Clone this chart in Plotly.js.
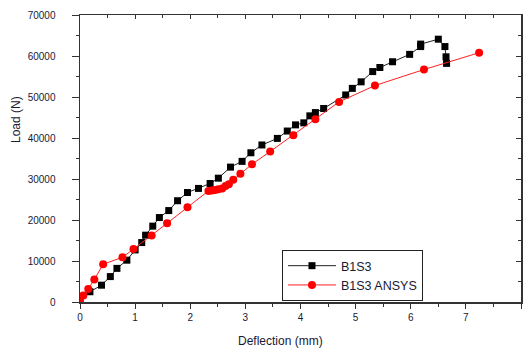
<!DOCTYPE html>
<html>
<head>
<meta charset="utf-8">
<script src="https://cdn.plot.ly/plotly-3.0.1.min.js"></script>
<style>html,body{margin:0;padding:0;background:#fff;}#chart{width:524px;height:348px;}</style>
</head>
<body>
<div id="chart"></div>
<script>
// B1S3 experimental
const expDeflection = [0, 0.18, 0.39, 0.55, 0.67, 0.85, 1.0, 1.12, 1.19, 1.32, 1.44, 1.61, 1.77, 1.95, 2.15, 2.36, 2.51, 2.73, 2.94, 3.10, 3.30, 3.58, 3.76, 3.91, 4.06, 4.17, 4.27, 4.42, 4.82, 4.94, 5.10, 5.31, 5.44, 5.67, 5.98, 6.18, 6.18, 6.50, 6.62, 6.64, 6.65];
const expLoad = [500, 2500, 4100, 6200, 8200, 10200, 12700, 14500, 16300, 18500, 20600, 22300, 24700, 26700, 27700, 28900, 30200, 32900, 34300, 36400, 38300, 39900, 41700, 43200, 43700, 45400, 46200, 47200, 50500, 52100, 53700, 56200, 57200, 58600, 60400, 62300, 62900, 64100, 62300, 59800, 58200];
// B1S3 ANSYS
const ansysDeflection = [0, 0.06, 0.15, 0.26, 0.42, 0.77, 0.97, 1.30, 1.58, 1.95, 2.33, 2.39, 2.45, 2.51, 2.58, 2.64, 2.70, 2.78, 2.91, 3.12, 3.45, 3.87, 4.27, 4.70, 5.35, 6.24, 7.24];
const ansysLoad = [0, 1600, 3200, 5500, 9200, 10900, 12900, 16200, 19200, 23100, 27100, 27200, 27300, 27500, 27700, 28300, 28700, 29800, 31300, 33600, 36700, 40700, 44600, 48800, 52800, 56700, 60800];

const xTitle = 'Deflection (mm)';
const yTitle = 'Load (N)';
const seriesNames = ['B1S3', 'B1S3 ANSYS'];

const tickFont = {family: 'Liberation Sans, Arial, sans-serif', size: 10, color: '#1a1a33'};

const traces = [
  {x: expDeflection, y: expLoad, name: seriesNames[0], mode: 'lines+markers',
   line: {color: '#222', width: 1}, marker: {symbol: 'square', size: 7, color: '#000'}},
  {x: ansysDeflection, y: ansysLoad, name: seriesNames[1], mode: 'lines+markers',
   line: {color: '#ff2020', width: 1}, marker: {symbol: 'circle', size: 8, color: '#ff0000'}},
  {x: [], y: [], xaxis: 'x2', yaxis: 'y2', showlegend: false, hoverinfo: 'skip'}
];

const axisCommon = {showgrid: false, zeroline: false, showline: true, linecolor: '#333', linewidth: 1.5,
  tickcolor: '#333', tickwidth: 1, tickfont: tickFont, exponentformat: 'none', separatethousands: false};

const layout = {
  width: 524, height: 348,
  margin: {l: 80, r: 3, t: 15, b: 46},
  paper_bgcolor: '#fff', plot_bgcolor: '#fff',
  showlegend: true,
  legend: {x: 0.458, y: 0.181, xanchor: 'left', yanchor: 'top', bgcolor: '#fff',
    bordercolor: '#222', borderwidth: 1, itemwidth: 48, tracegroupgap: 0,
    font: {family: 'Liberation Sans, Arial, sans-serif', size: 12.5, color: '#1a1a33'}},
  xaxis: Object.assign({}, axisCommon, {range: [0, 8], dtick: 1, ticks: 'outside', ticklen: 5,
    minor: {dtick: 0.5, ticks: 'outside', ticklen: 3, tickcolor: '#333'}}),
  yaxis: Object.assign({}, axisCommon, {range: [0, 70000], dtick: 10000, ticks: 'outside', ticklen: 7,
    ticklabelstandoff: 14, tickformat: 'd',
    minor: {dtick: 5000, ticks: 'outside', ticklen: 3, tickcolor: '#333'}}),
  xaxis2: Object.assign({}, axisCommon, {overlaying: 'x', side: 'top', anchor: 'y2', range: [0, 8], dtick: 1,
    ticks: 'inside', ticklen: 4, showticklabels: false,
    minor: {dtick: 0.5, ticks: 'inside', ticklen: 3, tickcolor: '#333'}}),
  yaxis2: Object.assign({}, axisCommon, {overlaying: 'y', side: 'right', anchor: 'x2', range: [0, 70000], dtick: 10000,
    ticks: 'inside', ticklen: 5, showticklabels: false,
    minor: {dtick: 5000, ticks: 'inside', ticklen: 3, tickcolor: '#333'}}),
  annotations: [
    {text: xTitle, xref: 'paper', yref: 'paper', x: (280 - 80) / 441, y: (302 - 341) / 287,
     xanchor: 'center', yanchor: 'middle', showarrow: false,
     font: {family: 'Liberation Sans, Arial, sans-serif', size: 12, color: '#1a1a33'}},
    {text: yTitle, xref: 'paper', yref: 'paper', x: (16 - 80) / 441, y: (302 - 120) / 287,
     xanchor: 'center', yanchor: 'middle', textangle: -90, showarrow: false,
     font: {family: 'Liberation Sans, Arial, sans-serif', size: 12, color: '#1a1a33'}}
  ]
};

Plotly.newPlot('chart', traces, layout, {staticPlot: true, displayModeBar: false});
</script>
</body>
</html>
